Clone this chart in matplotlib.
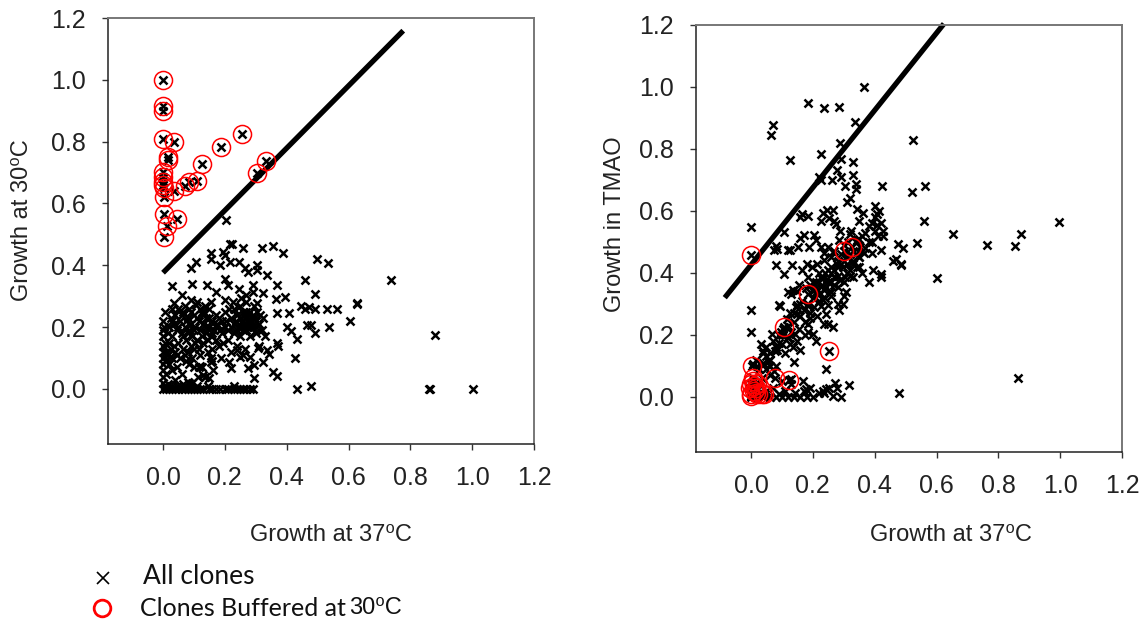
import matplotlib
matplotlib.use("Agg")
import matplotlib.pyplot as plt
from matplotlib.lines import Line2D

# --- Fonts ---
plt.rcParams["font.family"] = ["Liberation Sans", "DejaVu Sans"]

# --- Data: growth at 37C vs growth at 30C (left panel) ---
left_upper = [
    (0.204, 0.548), (0.218, 0.47), (0.223, 0.47), (0.258, 0.456), (0.319, 0.456),
    (0.355, 0.463), (0.388, 0.441), (0.498, 0.42), (0.535, 0.409), (0.737, 0.352),
    (0.156, 0.441), (0.194, 0.443), (0.2, 0.432), (0.247, 0.411), (0.218, 0.411),
    (0.107, 0.411), (0.09, 0.391), (0.156, 0.42), (0.185, 0.4), (0.264, 0.39),
    (0.276, 0.378), (0.305, 0.4), (0.305, 0.384), (0.337, 0.368), (0.37, 0.337),
    (0.458, 0.352), (0.03, 0.333), (0.095, 0.341), (0.142, 0.336), (0.172, 0.314),
    (0.2, 0.357), (0.21, 0.336), (0.247, 0.325), (0.29, 0.336), (0.29, 0.314),
    (0.323, 0.309), (0.27, 0.304), (0.253, 0.293), (0.394, 0.298), (0.365, 0.291),
    (0.492, 0.306), (0.626, 0.279), (0.446, 0.267), (0.458, 0.26), (0.53, 0.26),
    (0.37, 0.246), (0.06, 0.304), (0.09, 0.288), (0.037, 0.277), (0.107, 0.271),
    (0.156, 0.282), (0.2, 0.288), (0.23, 0.26), (0.27, 0.25), (0.305, 0.277),
    (0.133, 0.249), (0.006, 0.249), (0.03, 0.26),
]
left_outer = [
    (0.879, 0.175), (0.626, 0.275), (0.605, 0.221), (0.538, 0.202), (0.563, 0.258),
    (0.49, 0.258), (0.471, 0.264), (0.467, 0.207), (0.478, 0.207), (0.491, 0.182),
    (0.432, 0.161), (0.426, 0.099), (0.432, 0.0), (0.478, 0.008), (0.861, 0.0),
    (0.865, 0.0), (1.002, 0.0), (0.408, 0.245), (0.402, 0.202), (0.414, 0.186),
    (0.369, 0.148), (0.372, 0.14), (0.355, 0.056), (0.369, 0.041), (0.337, 0.125),
    (0.343, 0.113), (0.322, 0.088), (0.293, 0.077), (0.276, 0.067), (0.293, 0.034),
    (0.308, 0.132), (0.22, 0.067), (0.214, 0.088), (0.187, 0.099), (0.155, 0.088),
    (0.161, 0.061), (0.15, 0.034), (0.135, 0.039), (0.114, 0.039), (0.126, 0.072),
    (0.117, 0.072), (0.082, 0.023),
]
left_cluster = [
    (0.0, 0.22), (0.0, 0.19), (0.0, 0.17), (0.0, 0.14), (0.0, 0.12), (0.0, 0.1),
    (0.0, 0.08), (0.003, 0.2), (0.005, 0.15), (0.005, 0.09), (0.01, 0.12), (0.012, 0.095),
    (0.015, 0.11), (0.02, 0.08), (0.02, 0.2), (0.025, 0.13), (0.025, 0.23), (0.03, 0.1),
    (0.03, 0.17), (0.035, 0.21), (0.04, 0.24), (0.04, 0.12), (0.045, 0.07), (0.045, 0.19),
    (0.05, 0.26), (0.05, 0.15), (0.055, 0.1), (0.055, 0.22), (0.06, 0.18), (0.06, 0.05),
    (0.065, 0.25), (0.065, 0.13), (0.07, 0.2), (0.07, 0.27), (0.075, 0.16), (0.075, 0.09),
    (0.08, 0.23), (0.08, 0.12), (0.085, 0.19), (0.085, 0.26), (0.09, 0.14), (0.09, 0.21),
    (0.095, 0.1), (0.095, 0.17), (0.1, 0.24), (0.1, 0.13), (0.105, 0.2), (0.11, 0.28),
    (0.11, 0.16), (0.115, 0.22), (0.12, 0.19), (0.12, 0.11), (0.125, 0.25), (0.13, 0.21),
    (0.13, 0.15), (0.135, 0.27), (0.14, 0.18), (0.14, 0.23), (0.145, 0.12), (0.15, 0.2),
    (0.15, 0.26), (0.155, 0.17), (0.16, 0.22), (0.16, 0.13), (0.165, 0.19), (0.17, 0.24),
    (0.17, 0.16), (0.175, 0.21), (0.18, 0.14), (0.185, 0.19), (0.19, 0.22), (0.195, 0.15),
    (0.2, 0.2), (0.1, 0.07), (0.12, 0.075), (0.135, 0.04), (0.13, 0.045), (0.095, 0.02),
    (0.155, 0.1), (0.16, 0.09),
    (0.015, 0.18), (0.02, 0.15), (0.03, 0.22), (0.035, 0.14), (0.045, 0.11), (0.05, 0.2),
    (0.06, 0.24), (0.065, 0.17), (0.07, 0.11), (0.075, 0.22), (0.08, 0.18), (0.085, 0.08),
    (0.09, 0.25), (0.1, 0.19), (0.105, 0.15), (0.11, 0.23), (0.115, 0.13), (0.12, 0.26),
    (0.125, 0.17), (0.13, 0.24), (0.14, 0.2), (0.145, 0.16), (0.15, 0.23), (0.16, 0.18),
    (0.17, 0.2), (0.18, 0.23), (0.19, 0.18), (0.01, 0.05), (0.03, 0.06), (0.04, 0.03),
]
left_cluster_b = [
    (0.205, 0.22), (0.21, 0.16), (0.215, 0.26), (0.22, 0.2), (0.22, 0.12), (0.225, 0.28),
    (0.23, 0.18), (0.235, 0.22), (0.24, 0.24), (0.24, 0.14), (0.245, 0.2), (0.25, 0.27),
    (0.25, 0.17), (0.255, 0.22), (0.26, 0.25), (0.26, 0.19), (0.265, 0.21), (0.265, 0.13),
    (0.27, 0.23), (0.27, 0.28), (0.275, 0.2), (0.28, 0.25), (0.28, 0.17), (0.285, 0.22),
    (0.29, 0.24), (0.29, 0.2), (0.295, 0.27), (0.3, 0.22), (0.3, 0.18), (0.305, 0.25),
    (0.31, 0.21), (0.315, 0.24), (0.32, 0.19), (0.325, 0.23), (0.33, 0.17), (0.25, 0.105),
    (0.26, 0.11), (0.24, 0.125), (0.28, 0.105), (0.31, 0.14),
    (0.2, 0.25), (0.21, 0.19), (0.22, 0.23), (0.23, 0.21), (0.24, 0.19), (0.25, 0.23),
    (0.26, 0.21), (0.27, 0.19), (0.275, 0.24), (0.285, 0.2), (0.295, 0.23), (0.3, 0.2),
    (0.28, 0.21), (0.265, 0.24), (0.255, 0.2),
]
left_floor = [
    (0.0, 0.0), (0.01, 0.0), (0.02, 0.0), (0.03, 0.0), (0.04, 0.0), (0.05, 0.0),
    (0.06, 0.0), (0.07, 0.0), (0.08, 0.0), (0.09, 0.0), (0.1, 0.0), (0.11, 0.0),
    (0.12, 0.0), (0.13, 0.0), (0.15, 0.0), (0.16, 0.0), (0.17, 0.0), (0.185, 0.0),
    (0.2, 0.0), (0.21, 0.0), (0.23, 0.0), (0.24, 0.0), (0.25, 0.0), (0.26, 0.0),
    (0.27, 0.0), (0.28, 0.0), (0.29, 0.0), (0.0, 0.02), (0.005, 0.01), (0.015, 0.015),
    (0.03, 0.01), (0.05, 0.008), (0.065, 0.015), (0.085, 0.02), (0.11, 0.01),
    (0.145, 0.01), (0.23, 0.01), (0.0, 0.04), (0.0, 0.06),
]
# clones buffered at 30C (circled in both panels)
left_buffered = [
    (0.0, 1.0), (0.0, 0.914), (0.0, 0.898), (0.0, 0.808), (0.037, 0.8), (0.015, 0.75),
    (0.017, 0.74), (0.127, 0.728), (0.187, 0.784), (0.256, 0.825), (0.332, 0.736),
    (0.303, 0.698), (0.109, 0.673), (0.085, 0.668), (0.071, 0.657), (0.0, 0.703),
    (0.0, 0.687), (0.0, 0.671), (0.0, 0.66), (0.003, 0.649), (0.004, 0.622),
    (0.034, 0.639), (0.004, 0.566), (0.046, 0.549), (0.012, 0.528), (0.004, 0.493),
]
left_line = [(0.0, 0.376), (0.777, 1.159)]

# --- Data: growth at 37C vs growth in TMAO (right panel) ---
right_upper = [
    (0.366, 1.0), (0.183, 0.948), (0.237, 0.933), (0.286, 0.935), (0.337, 0.888),
    (0.071, 0.877), (0.065, 0.846), (0.523, 0.83), (0.288, 0.82), (0.225, 0.784),
    (0.126, 0.765), (0.329, 0.757), (0.29, 0.768), (0.278, 0.733), (0.33, 0.715),
    (0.29, 0.71), (0.261, 0.7), (0.225, 0.7), (0.22, 0.71), (0.305, 0.68),
    (0.34, 0.688), (0.34, 0.67), (0.425, 0.679), (0.52, 0.661), (0.562, 0.68),
    (0.319, 0.642), (0.31, 0.63),
]
right_outer = [
    (0.56, 0.567), (0.654, 0.525), (0.763, 0.49), (0.854, 0.488), (0.874, 0.527),
    (0.997, 0.564), (0.603, 0.382), (0.536, 0.498), (0.475, 0.494), (0.49, 0.48),
    (0.458, 0.439), (0.47, 0.445), (0.486, 0.43), (0.486, 0.425), (0.396, 0.409),
    (0.422, 0.473), (0.478, 0.014), (0.862, 0.06),
]
right_cluster = [
    (0.402, 0.616), (0.413, 0.6), (0.408, 0.59), (0.408, 0.553), (0.428, 0.535),
    (0.428, 0.519), (0.402, 0.535), (0.363, 0.592), (0.349, 0.568), (0.343, 0.605),
    (0.39, 0.465), (0.419, 0.395), (0.422, 0.387), (0.38, 0.371), (0.329, 0.387),
    (0.307, 0.338), (0.3, 0.325), (0.28, 0.3), (0.26, 0.326), (0.25, 0.295),
    (0.23, 0.317), (0.21, 0.338), (0.12, 0.338), (0.13, 0.333), (0.15, 0.343),
    (0.09, 0.295), (0.095, 0.293), (0.15, 0.295), (0.18, 0.295), (0.0, 0.28),
    (0.0, 0.547), (0.082, 0.488), (0.084, 0.478), (0.073, 0.475), (0.082, 0.425),
    (0.106, 0.533), (0.12, 0.475), (0.126, 0.475), (0.134, 0.425), (0.106, 0.398),
    (0.152, 0.484), (0.16, 0.514), (0.17, 0.522), (0.157, 0.58), (0.166, 0.589),
    (0.183, 0.582), (0.225, 0.568), (0.233, 0.592), (0.245, 0.603), (0.266, 0.603),
    (0.269, 0.568), (0.275, 0.557), (0.287, 0.535), (0.253, 0.578), (0.205, 0.522),
    (0.21, 0.506), (0.188, 0.484), (0.225, 0.484), (0.237, 0.463), (0.25, 0.484),
    (0.265, 0.468), (0.284, 0.506), (0.32, 0.527), (0.325, 0.535), (0.343, 0.506),
    (0.354, 0.484), (0.366, 0.463), (0.349, 0.452), (0.343, 0.42), (0.32, 0.409),
    (0.296, 0.42), (0.278, 0.43), (0.26, 0.42), (0.237, 0.441), (0.215, 0.43),
    (0.198, 0.42), (0.18, 0.43), (0.166, 0.409), (0.183, 0.387), (0.2, 0.371),
    (0.225, 0.387), (0.25, 0.371), (0.27, 0.387), (0.287, 0.376), (0.237, 0.344),
    (0.22, 0.333), (0.26, 0.339), (0.28, 0.355), (0.305, 0.387), (0.177, 0.35),
    (0.155, 0.36), (0.137, 0.344),
    (0.26, 0.45), (0.27, 0.47), (0.28, 0.44), (0.29, 0.46), (0.3, 0.49),
    (0.31, 0.45), (0.315, 0.5), (0.33, 0.47), (0.34, 0.46), (0.35, 0.51),
    (0.36, 0.47), (0.37, 0.53), (0.38, 0.5), (0.39, 0.56), (0.25, 0.41),
    (0.24, 0.4), (0.23, 0.38), (0.22, 0.4), (0.21, 0.37), (0.2, 0.34),
    (0.19, 0.36), (0.27, 0.41), (0.29, 0.43), (0.31, 0.43), (0.33, 0.44),
    (0.35, 0.42), (0.36, 0.4), (0.32, 0.39), (0.3, 0.37), (0.28, 0.39),
    (0.26, 0.37), (0.24, 0.35),
]
right_lower = [
    (0.0, 0.208), (0.032, 0.17), (0.038, 0.148), (0.05, 0.132), (0.055, 0.116),
    (0.061, 0.1), (0.073, 0.084), (0.067, 0.203), (0.079, 0.148), (0.09, 0.175),
    (0.096, 0.208), (0.12, 0.192), (0.126, 0.17), (0.143, 0.203), (0.149, 0.181),
    (0.14, 0.113), (0.157, 0.15), (0.176, 0.2), (0.183, 0.208), (0.199, 0.204),
    (0.21, 0.18), (0.183, 0.234), (0.149, 0.267), (0.19, 0.256), (0.225, 0.293),
    (0.243, 0.267), (0.249, 0.234), (0.237, 0.234), (0.266, 0.226), (0.284, 0.28),
    (0.296, 0.3), (0.242, 0.089), (0.13, 0.057), (0.167, 0.052), (0.143, 0.014),
    (0.178, 0.025), (0.19, 0.03), (0.22, 0.014), (0.232, 0.019), (0.243, 0.025),
    (0.251, 0.028), (0.272, 0.046), (0.278, 0.03), (0.29, 0.0), (0.317, 0.037),
    (0.266, 0.003), (0.237, 0.011),
    (0.04, 0.14), (0.05, 0.16), (0.06, 0.12), (0.07, 0.18), (0.08, 0.1),
    (0.085, 0.15), (0.09, 0.2), (0.1, 0.17), (0.105, 0.22), (0.11, 0.14),
    (0.115, 0.25), (0.12, 0.19), (0.125, 0.27), (0.13, 0.21), (0.135, 0.16),
    (0.14, 0.24), (0.145, 0.29), (0.155, 0.22), (0.16, 0.26), (0.165, 0.31),
    (0.17, 0.28), (0.175, 0.24), (0.185, 0.3), (0.19, 0.27), (0.2, 0.32),
    (0.205, 0.29), (0.21, 0.35), (0.215, 0.26), (0.22, 0.31), (0.23, 0.36),
    (0.24, 0.32), (0.245, 0.38), (0.255, 0.34), (0.26, 0.4), (0.27, 0.36),
    (0.28, 0.42), (0.29, 0.38), (0.3, 0.44), (0.31, 0.4), (0.32, 0.46),
    (0.33, 0.43), (0.34, 0.5), (0.35, 0.45), (0.36, 0.52), (0.37, 0.48),
    (0.38, 0.55), (0.39, 0.5), (0.4, 0.58), (0.41, 0.52), (0.42, 0.56),
    (0.02, 0.1), (0.015, 0.12), (0.005, 0.105), (0.025, 0.09), (0.035, 0.06),
    (0.16, 0.3), (0.14, 0.27), (0.12, 0.23), (0.1, 0.2), (0.08, 0.16),
    (0.06, 0.14), (0.05, 0.09), (0.04, 0.11),
]
right_floor = [
    (0.0, 0.0), (0.02, 0.0), (0.04, 0.0), (0.06, 0.0), (0.08, 0.0), (0.1, 0.0),
    (0.12, 0.0), (0.14, 0.0), (0.16, 0.0), (0.18, 0.0), (0.2, 0.0), (0.05, 0.02),
    (0.07, 0.03), (0.09, 0.01), (0.11, 0.02), (0.13, 0.04), (0.03, 0.05), (0.06, 0.07),
    (0.1, 0.05), (0.17, 0.02),
]
right_buffered = [
    (0.0, 0.457), (0.3, 0.471), (0.328, 0.484), (0.185, 0.331), (0.108, 0.226),
    (0.251, 0.148), (0.004, 0.1), (0.079, 0.06), (0.124, 0.055), (0.005, 0.062),
    (0.0, 0.041), (-0.002, 0.028), (0.009, 0.019), (0.016, 0.011), (0.023, 0.009),
    (0.037, 0.009), (0.043, 0.009), (0.0, 0.009), (0.0, 0.003), (0.009, 0.036),
    (0.016, 0.03), (0.005, 0.052), (0.019, 0.043),
]
right_line = [(-0.085, 0.32), (0.624, 1.204)]

TICKS = [0.0, 0.2, 0.4, 0.6, 0.8, 1.0, 1.2]
TICK_LABELS = ["0.0", "0.2", "0.4", "0.6", "0.8", "1.0", "1.2"]

fig = plt.figure(figsize=(11.4, 6.25), dpi=100)
ax_l = fig.add_axes([108 / 1140, 1 - 444 / 625, 426 / 1140, 426 / 625])
ax_r = fig.add_axes([696 / 1140, 1 - 452 / 625, 426 / 1140, 427 / 625])


def style_axes(ax):
    ax.set_xlim(-0.178, 1.2)
    ax.set_ylim(-0.178, 1.2)
    ax.set_xticks(TICKS)
    ax.set_xticklabels(TICK_LABELS)
    ax.set_yticks(TICKS)
    ax.set_yticklabels(TICK_LABELS)
    ax.tick_params(direction="out", length=4, width=1, color="#333333",
                   labelsize=18, labelcolor="#222222")
    ax.tick_params(axis="x", pad=12)
    ax.tick_params(axis="y", pad=12)
    for side in ("left", "bottom"):
        ax.spines[side].set_color("#222222")
        ax.spines[side].set_linewidth(1.1)
    for side in ("top", "right"):
        ax.spines[side].set_color("#777777")
        ax.spines[side].set_linewidth(1.4)


def draw_panel(ax, groups, buffered, line):
    pts = [p for g in groups for p in g] + buffered
    ax.plot([p[0] for p in line], [p[1] for p in line], color="black",
            lw=3.8, solid_capstyle="butt", clip_on=False, zorder=2)
    ax.plot([p[0] for p in pts], [p[1] for p in pts], "x", color="black",
            ms=5.5, mew=1.8, zorder=3)
    ax.plot([p[0] for p in buffered], [p[1] for p in buffered], "o",
            mfc="none", mec="#ff0000", ms=13, mew=1.1, zorder=4)
    style_axes(ax)


draw_panel(ax_l, [left_upper, left_outer, left_cluster, left_cluster_b, left_floor],
           left_buffered, left_line)
draw_panel(ax_r, [right_upper, right_outer, right_cluster, right_lower, right_floor],
           right_buffered, right_line)

# axis titles
lab = dict(fontsize=17, color="#222222", va="center", ha="center")
fig.text(22 / 1140, 1 - 220 / 625, "Growth at 30\u2070C", rotation=90, **lab)
fig.text(615 / 1140, 1 - 224 / 625, "Growth in TMAO", rotation=90, **lab)
fig.text(331 / 1140, 1 - 535 / 625, "Growth at 37\u2070C", **lab)
fig.text(951 / 1140, 1 - 535 / 625, "Growth at 37\u2070C", **lab)

# key
fig.add_artist(Line2D([103 / 1140], [1 - 578 / 625], marker="x", color="black",
                      ms=8, mew=1.2, transform=fig.transFigure))
fig.add_artist(Line2D([102 / 1140], [1 - 608 / 625], marker="o", mfc="none",
                      mec="#ff0000", ms=12, mew=2, transform=fig.transFigure))
fig.text(143 / 1140, 1 - 577 / 625, "All clones", family=["Lato", "DejaVu Sans"],
         fontsize=19, va="center", ha="left", color="#111111")
buf_txt = fig.text(140 / 1140, 1 - 608 / 625, "Clones Buffered at",
                   family=["Lato", "DejaVu Sans"], fontsize=18,
                   va="center", ha="left", color="#111111")

# the temperature part sits right after the key text, in the axis font
renderer = fig.canvas.get_renderer()
end_px = buf_txt.get_window_extent(renderer).x1
fig.text((end_px + 3) / 1140, 1 - 608 / 625, "30\u2070C", fontsize=17,
         va="center", ha="left", color="#111111")

fig.savefig("out.png", dpi=100)
